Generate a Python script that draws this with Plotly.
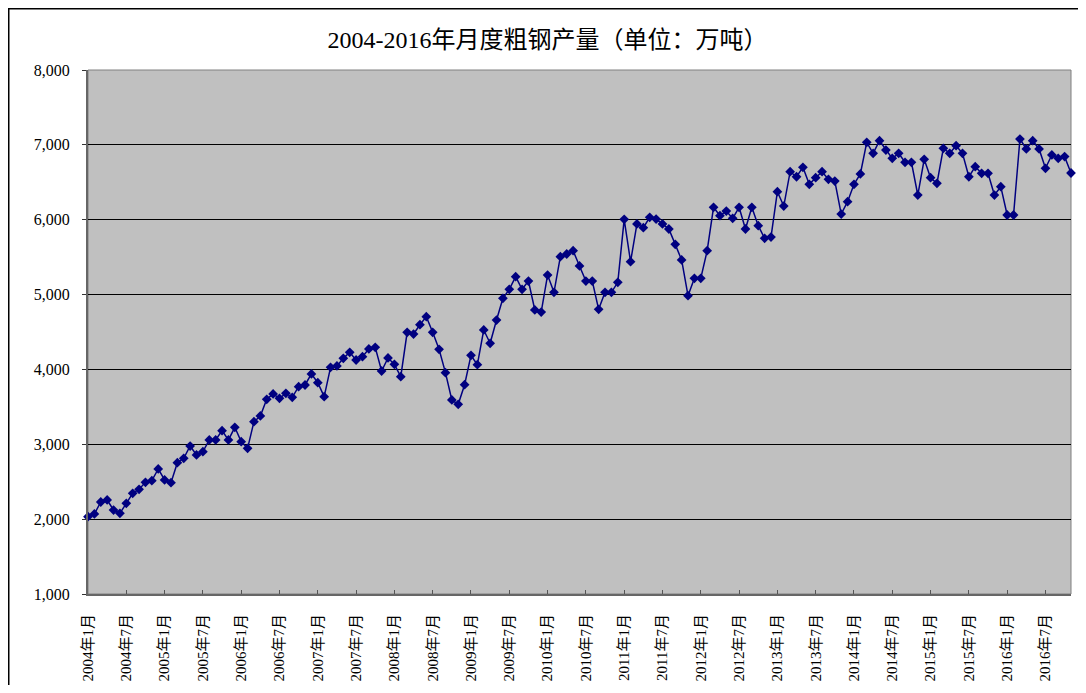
import plotly.graph_objects as go

# ---- data (万吨) ----
y2004 = [2033, 2069, 2229, 2256, 2122, 2078, 2211, 2345, 2399, 2492, 2514, 2670]
y2005 = [2523, 2487, 2754, 2812, 2977, 2857, 2901, 3058, 3058, 3182, 3058, 3227]
y2006 = [3035, 2946, 3302, 3378, 3601, 3672, 3614, 3681, 3628, 3770, 3792, 3939]
y2007 = [3823, 3636, 4028, 4046, 4148, 4229, 4126, 4170, 4273, 4295, 3979, 4153]
y2008 = [4068, 3903, 4496, 4473, 4597, 4705, 4496, 4269, 3957, 3592, 3534, 3796]
y2009 = [4188, 4063, 4527, 4349, 4660, 4950, 5070, 5239, 5070, 5181, 4794, 4767]
y2010 = [5261, 5030, 5506, 5542, 5586, 5382, 5181, 5181, 4803, 5030, 5030, 5164]
y2011 = [6005, 5439, 5943, 5894, 6032, 6009, 5943, 5876, 5671, 5462, 4985, 5217]
y2012 = [5217, 5586, 6166, 6054, 6116, 6018, 6166, 5876, 6166, 5920, 5751, 5769]
y2013 = [6374, 6183, 6641, 6574, 6700, 6473, 6561, 6641, 6540, 6517, 6076, 6241]
y2014 = [6473, 6611, 7034, 6887, 7055, 6931, 6820, 6887, 6767, 6767, 6330, 6807]
y2015 = [6561, 6486, 6954, 6887, 6989, 6887, 6574, 6708, 6620, 6620, 6330, 6441]
y2016 = [6063, 6063, 7078, 6945, 7055, 6945, 6687, 6865, 6820, 6843, 6624]

values = (y2004 + y2005 + y2006 + y2007 + y2008 + y2009 + y2010 + y2011
          + y2012 + y2013 + y2014 + y2015 + y2016)

years = list(range(2004, 2017))
categories = [f"{y}年{m}月" for y in years for m in range(1, 13)][:len(values)]
x_tick_labels = categories[::6]

y_tick_vals = [1000, 2000, 3000, 4000, 5000, 6000, 7000, 8000]
y_tick_labels = ["1,000", "2,000", "3,000", "4,000", "5,000", "6,000", "7,000", "8,000"]

title_text = "2004-2016年月度粗钢产量（单位：万吨）"

FONT = "Liberation Serif, Noto Sans CJK SC, serif"

# page body has an 8px margin on every side; size the figure so the page is 1086x693
W, H = 1070, 677
L, R, T, B = 80, 7, 62, 91
pw, ph = W - L - R, H - T - B

fig = go.Figure(
    go.Scatter(
        x=categories,
        y=values,
        mode="lines+markers",
        line=dict(color="#000080", width=1.5),
        marker=dict(symbol="diamond", size=7.5, color="#000080"),
        cliponaxis=False,
        showlegend=False,
    )
)

fig.update_layout(
    width=W,
    height=H,
    margin=dict(l=L, r=R, t=T, b=B),
    paper_bgcolor="white",
    plot_bgcolor="#C0C0C0",
    font=dict(family=FONT, size=16, color="black"),
    title=dict(
        text=title_text,
        x=539.5 / W,
        xanchor="center",
        xref="container",
        y=1 - 32 / H,
        yanchor="middle",
        yref="container",
        font=dict(family=FONT, size=24, color="black"),
    ),
    xaxis=dict(
        type="category",
        range=[0, len(values) - 1],
        automargin=False,
        tickmode="array",
        tickvals=x_tick_labels,
        ticktext=x_tick_labels,
        tickangle=-90,
        showgrid=False,
        ticks="inside",
        ticklen=4,
        tickcolor="#555555",
        showline=True,
        linecolor="#666666",
        linewidth=2,
        tickfont=dict(family=FONT, size=15, color="black"),
        ticklabelstandoff=12,
    ),
    yaxis=dict(
        range=[1000, 8000],
        automargin=False,
        tickmode="array",
        tickvals=y_tick_vals,
        ticktext=y_tick_labels,
        showgrid=True,
        gridcolor="black",
        gridwidth=1,
        ticks="outside",
        ticklen=4,
        tickcolor="#333333",
        showline=True,
        linecolor="#666666",
        linewidth=2,
        zeroline=False,
        tickfont=dict(family=FONT, size=16, color="black"),
        ticklabelstandoff=9,
    ),
    shapes=[
        dict(type="rect", xref="paper", yref="paper", x0=0, x1=1, y0=0, y1=1,
             line=dict(color="#808080", width=1), layer="below"),
        dict(type="rect", xref="paper", yref="paper",
             x0=(0.75 - L) / pw, x1=(W + 20 - L) / pw,
             y0=-(B + 20) / ph, y1=(ph + T - 0.75) / ph,
             line=dict(color="black", width=1.5), fillcolor="rgba(0,0,0,0)"),
    ],
)

fig.write_html("out.html")
